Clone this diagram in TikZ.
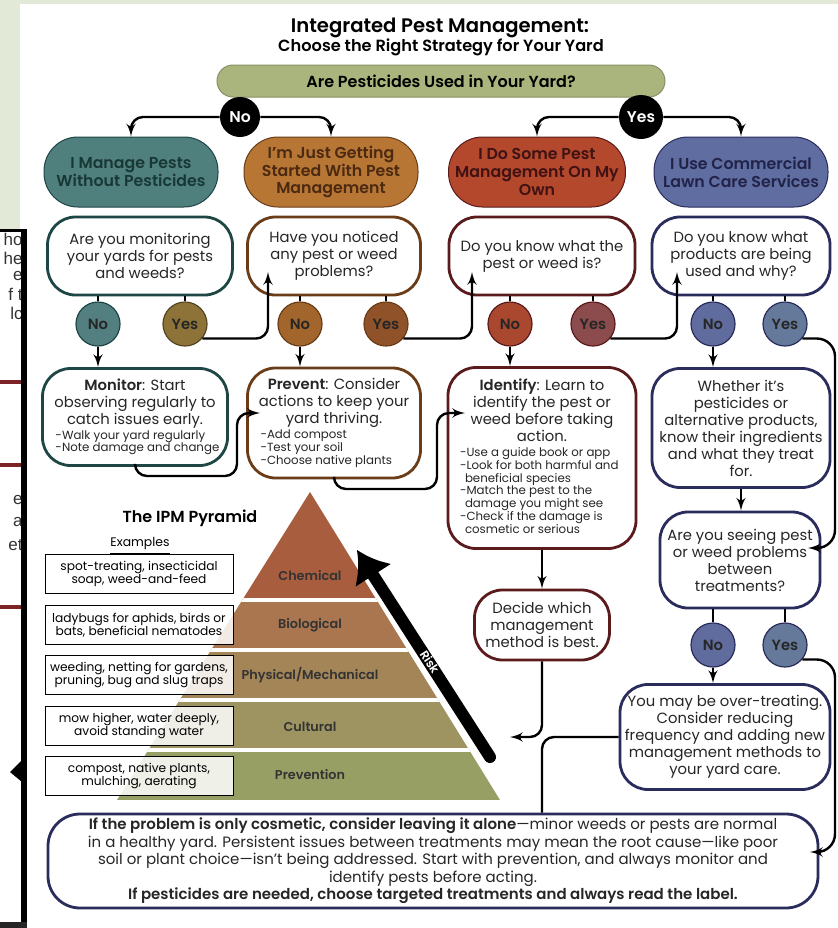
\documentclass[tikz,border=0pt]{standalone}
\usepackage{fontspec}
\setmainfont{Poppins}[BoldFont={Poppins SemiBold}]
\newfontfamily\fragfont{Liberation Sans}
\usetikzlibrary{shapes,arrows,arrows.meta,positioning}

\definecolor{pagegreen}{HTML}{E3E9D7}
\definecolor{barolive}{HTML}{A9B57D}
\definecolor{tealfill}{HTML}{50807E}
\definecolor{tealline}{HTML}{1E4644}
\definecolor{orangefill}{HTML}{B87634}
\definecolor{brownline}{HTML}{6B3C18}
\definecolor{redfill}{HTML}{B3482D}
\definecolor{redline}{HTML}{5B1A1B}
\definecolor{bluefill}{HTML}{5F6DA1}
\definecolor{navyline}{HTML}{2A2C5B}
\definecolor{tealno}{HTML}{537F80}
\definecolor{oliveyes}{HTML}{8D7338}
\definecolor{orangeno}{HTML}{A2662D}
\definecolor{brownyes}{HTML}{905229}
\definecolor{redno}{HTML}{AA482F}
\definecolor{mauveyes}{HTML}{8C4B4C}
\definecolor{slateno}{HTML}{5F6C9D}
\definecolor{greyyes}{HTML}{65799B}
\definecolor{chemcol}{HTML}{A85D3E}
\definecolor{biocol}{HTML}{AA7650}
\definecolor{physcol}{HTML}{A38557}
\definecolor{cultcol}{HTML}{9E9461}
\definecolor{prevcol}{HTML}{989F65}
\definecolor{fragred}{HTML}{7B2326}

\newcommand{\bodytxt}{\fontsize{7.4}{8.5}\selectfont}
\newcommand{\pilltxt}{\bfseries\fontsize{7.9}{8.9}\selectfont}
\newcommand{\steplist}[2]{\makebox[#1][l]{\fontsize{5.9}{6.3}\selectfont\begin{tabular}[t]{@{}l@{}}#2\end{tabular}}}

\begin{document}
\begin{tikzpicture}[x=0.5pt, y=-0.5pt]

    \tikzstyle{pill} = [
        rectangle,
        rounded corners=17pt,
        draw,
        line width=0.5pt,
        minimum width=87pt,
        minimum height=35pt,
        align=center,
        font=\pilltxt
    ]

    \tikzstyle{question} = [
        rectangle,
        rounded corners=14pt,
        draw,
        fill=white,
        line width=1.4pt,
        minimum height=39pt,
        inner sep=2pt,
        align=center,
        text=black!85,
        font=\bodytxt
    ]

    \tikzstyle{answer} = [
        circle,
        draw,
        line width=0.6pt,
        minimum size=22pt,
        inner sep=0pt,
        text=black!85,
        font=\bfseries\fontsize{7.4}{8}\selectfont
    ]

    \tikzstyle{split} = [
        circle,
        fill=black,
        minimum size=20pt,
        inner sep=0pt,
        text=white,
        font=\bfseries\fontsize{7.8}{8}\selectfont
    ]

    \tikzstyle{example} = [
        rectangle,
        draw,
        line width=0.5pt,
        fill=white,
        fill opacity=0.85,
        text opacity=1,
        minimum width=94pt,
        minimum height=19.5pt,
        inner sep=1pt,
        align=center,
        font=\fontsize{6.1}{6.4}\selectfont
    ]

    \tikzstyle{layer} = [
        text=black!80,
        font=\bfseries\fontsize{6.4}{7}\selectfont
    ]

    \tikzstyle{line} = [
        draw,
        -latex',
        line width=1.2pt,
        rounded corners=6pt
    ]

    \tikzstyle{stub} = [
        draw,
        line width=1.2pt
    ]

    \useasboundingbox (0,0) rectangle (838,928);
    \fill[pagegreen] (0,0) rectangle (838,928);
    \fill[white] (20,4) rectangle (838,928);

    % title
    \node [font=\bfseries\fontsize{9.8}{11}\selectfont]          (title) at (440,28) {Integrated Pest Management:};
    \node [font=\bfseries\fontsize{8.1}{9}\selectfont]        (subtitle) at (441,47) {Choose the Right Strategy for Your Yard};

    \node [pill, fill=barolive, draw=barolive!80!black, minimum width=224pt, minimum height=16pt,
           rounded corners=8pt, font=\bfseries\fontsize{8}{8}\selectfont] (pesticideq) at (441,81) {Are Pesticides Used in Your Yard?};

    \node [split]                                      (nosplit) at (240,117) {No};
    \node [split, minimum size=22pt]                  (yessplit) at (641,117) {Yes};

    % four starting points
    \node [pill, fill=tealfill, draw=tealline, text=tealline!80!black]       (managepill) at (131,172) {I Manage Pests\\Without Pesticides};
    \node [pill, fill=orangefill, draw=brownline, text=brownline!70!black]    (startpill) at (331,172) {I'm Just Getting\\Started With Pest\\Management};
    \node [pill, fill=redfill, draw=redline, text=redline!70!black]            (ownpill) at (537,172) {I Do Some Pest\\Management On My\\Own};
    \node [pill, fill=bluefill, draw=navyline, text=navyline!80!black]     (servicepill) at (741,172) {I Use Commercial\\Lawn Care Services};

    \path [line] (nosplit.west) -| (managepill.north);
    \path [line] (nosplit.east) -| (startpill.north);
    \path [line] (yessplit.west) -| (ownpill.north);
    \path [line] (yessplit.east) -| (servicepill.north);

    % questions
    \node [question, draw=tealline, minimum width=92.5pt]   (monitorq) at (140,256) {Are you monitoring\\your yards for pests\\and weeds?};
    \node [question, draw=brownline, minimum width=86.5pt]   (noticeq) at (334,256) {Have you noticed\\any pest or weed\\problems?};
    \node [question, draw=redline, minimum width=93pt]     (knowpestq) at (542,256) {Do you know what the\\pest or weed is?};
    \node [question, draw=navyline, minimum width=89pt]     (productq) at (741,256) {Do you know what\\products are being\\used and why?};

    \node [answer, fill=tealno, draw=tealline]              (monitorno) at (98,324) {No};
    \node [answer, fill=oliveyes, draw=oliveyes!60!black] (monitoryes) at (185,324) {Yes};
    \node [answer, fill=orangeno, draw=brownline]           (noticeno) at (300,324) {No};
    \node [answer, fill=brownyes, draw=brownline]          (noticeyes) at (386,324) {Yes};
    \node [answer, fill=redno, draw=redline]                  (knowno) at (510,324) {No};
    \node [answer, fill=mauveyes, draw=redline]              (knowyes) at (593,324) {Yes};
    \node [answer, fill=slateno, draw=navyline]            (productno) at (713,324) {No};
    \node [answer, fill=greyyes, draw=navyline]           (productyes) at (785,324) {Yes};

    \path [stub] (monitorq.south -| monitorno) -- (monitorno.north);
    \path [stub] (monitorq.south -| monitoryes) -- (monitoryes.north);
    \path [stub] (noticeq.south -| noticeno) -- (noticeno.north);
    \path [stub] (noticeq.south -| noticeyes) -- (noticeyes.north);
    \path [stub] (knowpestq.south -| knowno) -- (knowno.north);
    \path [stub] (knowpestq.south -| knowyes) -- (knowyes.north);
    \path [stub] (productq.south -| productno) -- (productno.north);
    \path [stub] (productq.south -| productyes) -- (productyes.north);

    % actions
    \node [question, draw=tealline, minimum width=92.5pt, minimum height=48.5pt] (monitorbox) at (135,417)
        {\textbf{Monitor}: Start\\observing regularly to\\catch issues early.\\[-1pt]
         \steplist{79.5pt}{-Walk your yard regularly\\-Note damage and change}};
    \node [question, draw=brownline, minimum width=86.5pt, minimum height=55pt] (preventbox) at (334,423)
        {\textbf{Prevent}: Consider\\actions to keep your\\yard thriving.\\[-1pt]
         \steplist{73.5pt}{-Add compost\\-Test your soil\\-Choose native plants}};
    \node [question, draw=redline, minimum width=94pt, minimum height=90.5pt] (identifybox) at (542,458)
        {\textbf{Identify}: Learn to\\identify the pest or\\weed before taking\\action.\\[-1pt]
         \steplist{82pt}{-Use a guide book or app\\-Look for both harmful and\\\hspace{2.5pt}beneficial species\\-Match the pest to the\\\hspace{2.5pt}damage you might see\\-Check if the damage is\\\hspace{2.5pt}cosmetic or serious}};
    \node [question, draw=navyline, minimum width=89pt, minimum height=59.5pt] (whetherbox) at (741,428)
        {Whether it's\\pesticides or\\alternative products,\\know their ingredients\\and what they treat\\for.};

    \path [line] (monitorno.south) -- (monitorno.south |- monitorbox.north);
    \path [line] (noticeno.south) -- (noticeno.south |- preventbox.north);
    \path [line] (knowno.south) -- (knowno.south |- identifybox.north);
    \path [line] (productno.south) -- (productno.south |- whetherbox.north);

    \coordinate (noticein) at (268,272);
    \coordinate (knowin) at (472,272);
    \coordinate (productin) at (677,272);
    \path [line] (monitoryes.-40) -| (noticein);
    \path [line] (noticeyes.-40) -| (knowin);
    \path [line] (knowyes.-40) -| (productin);

    \coordinate (preventin) at (260,413);
    \coordinate (identifyin) at (465,413);
    \path [line] (monitorbox.south) |- (237,476) |- (preventin);
    \path [line] (preventbox.south) |- (437,489) |- (identifyin);

    % commercial services branch
    \node [question, draw=navyline, minimum width=80pt, minimum height=48pt] (seeingq) at (740,560)
        {Are you seeing pest\\or weed problems\\between\\treatments?};
    \node [answer, fill=slateno, draw=navyline]  (seeingno) at (713,645) {No};
    \node [answer, fill=greyyes, draw=navyline] (seeingyes) at (785,645) {Yes};
    \path [stub] (seeingq.south -| seeingno) -- (seeingno.north);
    \path [stub] (seeingq.south -| seeingyes) -- (seeingyes.north);

    \node [question, draw=navyline, minimum width=105pt, minimum height=52.5pt] (overtreatbox) at (725,737)
        {You may be over-treating.\\Consider reducing\\frequency and adding new\\management methods to\\your yard care.};

    \path [line] (whetherbox.south) -- (whetherbox.south |- seeingq.north);
    \path [line] (seeingno.south) -- (seeingno.south |- overtreatbox.north);

    \node [question, draw=redline, minimum width=67.5pt, minimum height=35pt] (decidebox) at (542,625)
        {Decide which\\management\\method is best.};
    \path [line] (identifybox.south) -- (decidebox.north);

    \node [question, draw=navyline, minimum width=385pt, minimum height=43.5pt, rounded corners=16pt,
           font=\fontsize{7.5}{7.4}\selectfont] (finalbox) at (433,861)
        {\textbf{If the problem is only cosmetic, consider leaving it alone}---minor weeds or pests are normal\\
         in a healthy yard. Persistent issues between treatments may mean the root cause---like poor\\
         soil or plant choice---isn't being addressed. Start with prevention, and always monitor and\\
         identify pests before acting.\\
         \textbf{If pesticides are needed, choose targeted treatments and always read the label.}};

    \coordinate (pyramidin) at (510,737);
    \path [line] (decidebox.south) |- (pyramidin);
    \draw [line width=1.2pt, rounded corners=6pt] (overtreatbox.west) -| (decidebox.south |- finalbox.north);

    \coordinate (seeingin) at (808,548);
    \coordinate (finalin) at (810,852);
    \path [line, rounded corners=9pt] (productyes.-40) -| (835,548) -- (seeingin);
    \path [line, rounded corners=9pt] (seeingyes.-40) -| (835,852) -- (finalin);

    % the pyramid
    \begin{scope}
        \clip (310,492) -- (500,800) -- (117,800) -- cycle;
        \fill[chemcol] (100,480) rectangle (520,600);
        \fill[biocol] (100,600) rectangle (520,650);
        \fill[physcol] (100,650) rectangle (520,700);
        \fill[cultcol] (100,700) rectangle (520,750);
        \fill[prevcol] (100,750) rectangle (520,800);
        \foreach \sep in {600,650,700,750}
            \draw[white, line width=1.6pt] (100,\sep) -- (520,\sep);
    \end{scope}

    \node [layer]  (chemlabel) at (310,576) {Chemical};
    \node [layer]   (biolabel) at (310,625) {Biological};
    \node [layer]  (physlabel) at (310,675) {Physical/Mechanical};
    \node [layer]  (cultlabel) at (310,727) {Cultural};
    \node [layer]  (prevlabel) at (310,775) {Prevention};

    \node [font=\bfseries\fontsize{8}{9}\selectfont] (pyramidtitle) at (190,518) {The IPM Pyramid};
    \node [font=\fontsize{6.2}{7}\selectfont] (examplestitle) at (140,546) {\underline{Examples}};

    \node [example]  (chemex) at (139,574) {spot-treating, insecticidal\\soap, weed-and-feed};
    \node [example]   (bioex) at (139,625) {ladybugs for aphids, birds or\\bats, beneficial nematodes};
    \node [example]  (physex) at (139,675) {weeding, netting for gardens,\\pruning, bug and slug traps};
    \node [example]  (cultex) at (139,726) {mow higher, water deeply,\\avoid standing water};
    \node [example]  (prevex) at (139,776) {compost, native plants,\\mulching, aerating};

    % risk arrow
    \coordinate (risklow) at (490,757);
    \coordinate (risktop) at (357,550);
    \draw [white, line width=7.5pt, line cap=round] (risklow) -- (375,578);
    \draw [line width=6pt, line cap=round, -{Latex[length=15pt,width=22pt]}] (risklow) -- (risktop);
    \node [rotate=-57, inner sep=0pt, text=white, font=\bfseries\fontsize{6}{6}\selectfont] (risklabel) at (430,662) {Risk};

    % page of another document at the left edge
    \fill[white] (0,229) rectangle (25,925);
    \begin{scope}
        \clip (0,232) rectangle (22,922);
        \foreach \frag/\fy in {ho/239, he/258, e/276, f t/294, lc/313, e/500, a/522, et/545}
            \node [anchor=east, inner sep=0pt, text=black!80, font=\fragfont\fontsize{8.5}{9}\selectfont] at (23,\fy) {\frag};
        \foreach \bar in {380, 463, 605}
            \fill[fragred] (0,\bar) rectangle (22,\bar+4);
        \fill (22,760) -- (10,772) -- (22,782) -- cycle;
    \end{scope}
    \fill[black] (0,229) rectangle (27,232);
    \fill[black] (21,229) rectangle (27,925);
    \fill[black!85] (0,922) rectangle (27,928);

\end{tikzpicture}
\end{document}
